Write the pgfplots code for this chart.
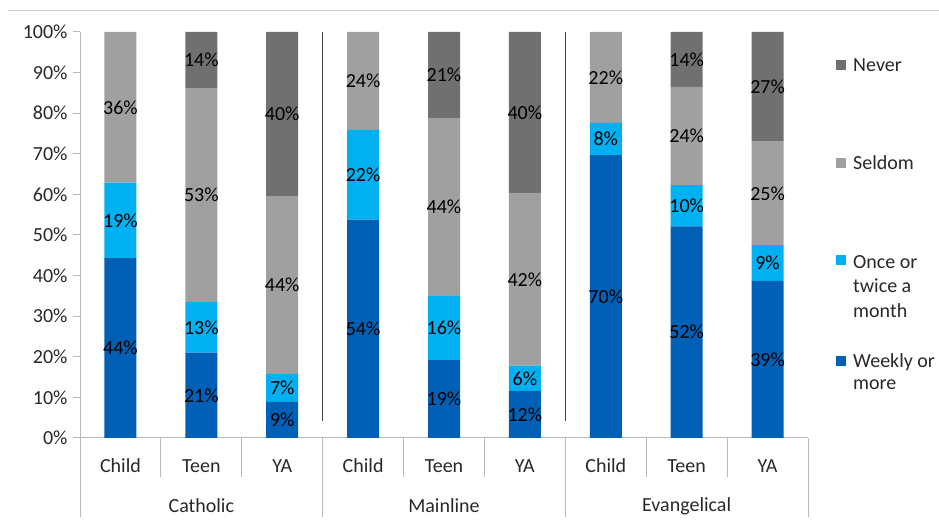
\documentclass[border=0pt]{standalone}
\usepackage{pgfplots}
\pgfplotsset{compat=1.18}
\usepackage{pgfplotstable}
\usepackage{fontspec}
\setmainfont{Carlito}
\definecolor{cWeek}{RGB}{0,96,182}
\definecolor{cOnce}{RGB}{0,176,240}
\definecolor{cSeld}{RGB}{160,160,160}
\definecolor{cNever}{RGB}{112,112,112}
\definecolor{axgray}{RGB}{185,185,185}
\definecolor{txt}{RGB}{40,40,40}

\pgfplotstableread{
x w o s n lw lo ls ln
0 44.3 18.6 37.1 0    44\% 19\% 36\% {}
1 21.0 12.5 52.7 13.8 21\% 13\% 53\% 14\%
2 8.9  6.9  43.8 40.4 9\%  7\%  44\% 40\%
3 53.8 22.1 24.1 0    54\% 22\% 24\% {}
4 19.2 15.8 43.8 21.2 19\% 16\% 44\% 21\%
5 11.6 6.2  42.4 39.8 12\% 6\%  42\% 40\%
6 69.7 7.9  22.4 0    70\% 8\%  22\% {}
7 52.1 10.2 24.2 13.5 52\% 10\% 24\% 14\%
8 38.7 8.8  25.5 27.0 39\% 9\%  25\% 27\%
}\datatable

\newcommand{\fs}{\fontsize{20}{24}\selectfont}

\begin{document}
\begin{tikzpicture}[font=\fs]
\useasboundingbox (0pt,0pt) rectangle (939pt,526pt);
\draw[axgray!70] (8pt,516pt) -- (939pt,516pt);
\begin{axis}[
  at={(80pt,88pt)}, anchor=south west,
  scale only axis, width=728pt, height=406pt,
  ybar stacked, bar width=32pt,
  xmin=-0.5, xmax=8.5, ymin=0, ymax=100,
  axis x line*=bottom, axis y line*=left,
  axis line style={axgray, line width=1pt},
  xtick=\empty,
  ytick={0,10,...,100},
  yticklabel={\pgfmathprintnumber{\tick}\%},
  /pgf/number format/assume math mode=true,
  tick align=outside, major tick length=7pt,
  ytick style={axgray, line width=1pt},
  tick label style={font=\fs, text=txt},
  yticklabel style={xshift=-2pt},
  clip=false,
  point meta=explicit symbolic,
  nodes near coords={\pgfplotspointmeta},
  every node near coord/.append style={anchor=center, font=\fs, text=black},
]
\addplot[fill=cWeek, draw=none] table[x=x, y=w, meta=lw]{\datatable};
\addplot[fill=cOnce, draw=none] table[x=x, y=o, meta=lo]{\datatable};
\addplot[fill=cSeld, draw=none] table[x=x, y=s, meta=ls]{\datatable};
\addplot[fill=cNever, draw=none] table[x=x, y=n, meta=ln]{\datatable};

\draw[black!75, line width=1.5pt] (axis cs:2.5,4.3) -- (axis cs:2.5,100);
\draw[black!75, line width=1.5pt] (axis cs:5.5,4.3) -- (axis cs:5.5,100);

\pgfplotsinvokeforeach{0.5,1.5,3.5,4.5,6.5,7.5}{
  \draw[axgray, line width=1pt] (axis cs:#1,0) -- ([yshift=-39pt]axis cs:#1,0);
}
\pgfplotsinvokeforeach{-0.5,2.5,5.5,8.5}{
  \draw[axgray, line width=1pt] (axis cs:#1,0) -- ([yshift=-79pt]axis cs:#1,0);
}
\node[text=txt] at ([yshift=-28pt]axis cs:0,0) {Child};
\node[text=txt] at ([yshift=-28pt]axis cs:1,0) {Teen};
\node[text=txt] at ([yshift=-28pt]axis cs:2,0) {YA};
\node[text=txt] at ([yshift=-28pt]axis cs:3,0) {Child};
\node[text=txt] at ([yshift=-28pt]axis cs:4,0) {Teen};
\node[text=txt] at ([yshift=-28pt]axis cs:5,0) {YA};
\node[text=txt] at ([yshift=-28pt]axis cs:6,0) {Child};
\node[text=txt] at ([yshift=-28pt]axis cs:7,0) {Teen};
\node[text=txt] at ([yshift=-28pt]axis cs:8,0) {YA};
\node[text=txt] at ([yshift=-68pt]axis cs:1,0) {Catholic};
\node[text=txt] at ([yshift=-68pt]axis cs:4,0) {Mainline};
\node[text=txt] at ([yshift=-68pt]axis cs:7,0) {Evangelical};
\end{axis}

% legend
\fill[cNever] (836pt,456pt) rectangle (846pt,466pt);
\node[anchor=west, text=txt, inner sep=0pt] at (853pt,461pt) {Never};
\fill[cSeld] (836pt,358pt) rectangle (846pt,368pt);
\node[anchor=west, text=txt, inner sep=0pt] at (853pt,363pt) {Seldom};
\fill[cOnce] (836pt,261pt) rectangle (846pt,271pt);
\node[anchor=west, text=txt, inner sep=0pt] at (853pt,264pt) {Once or};
\node[anchor=west, text=txt, inner sep=0pt] at (853pt,240pt) {twice a};
\node[anchor=west, text=txt, inner sep=0pt] at (853pt,215pt) {month};
\fill[cWeek] (836pt,160pt) rectangle (846pt,170pt);
\node[anchor=west, text=txt, inner sep=0pt] at (853pt,164pt) {Weekly or};
\node[anchor=west, text=txt, inner sep=0pt] at (853pt,141pt) {more};
\end{tikzpicture}
\end{document}
